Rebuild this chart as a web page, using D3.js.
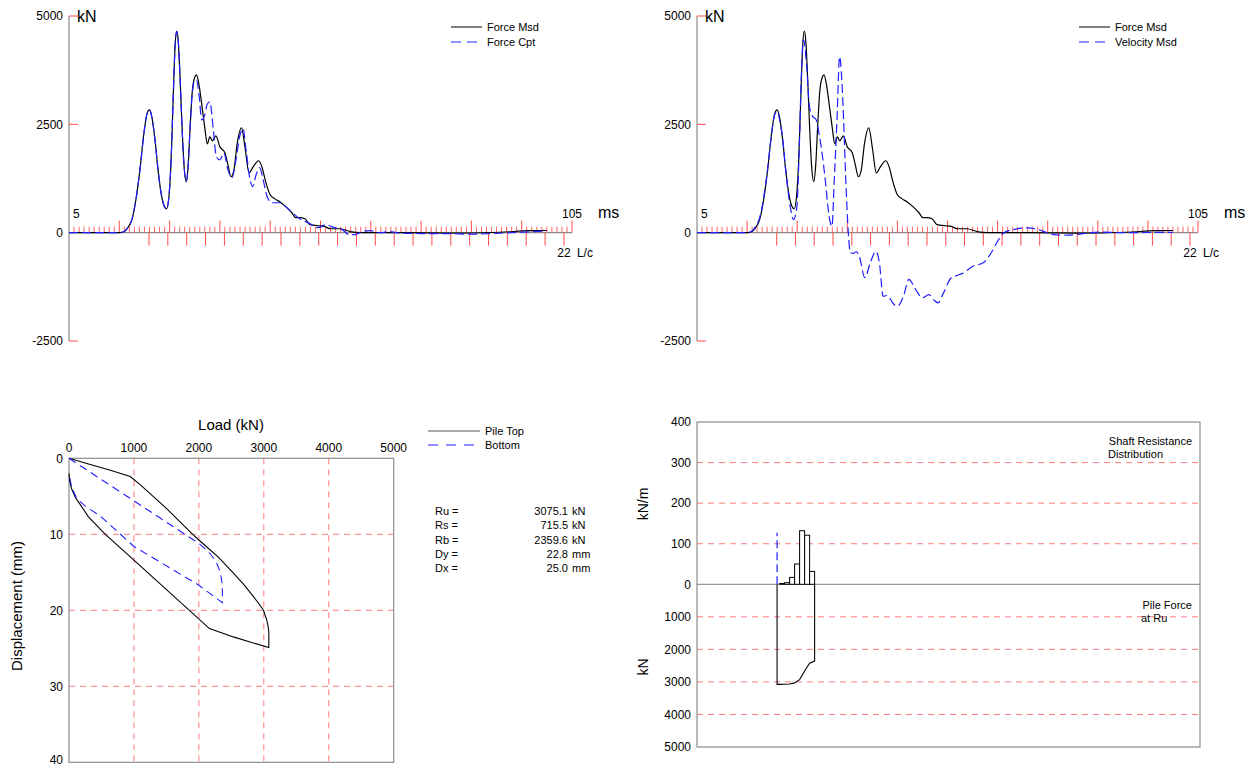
<!DOCTYPE html>
<html>
<head>
<meta charset="utf-8">
<script src="https://cdn.jsdelivr.net/npm/d3@7"></script>
<style>
  body { margin: 0; background: #fff; }
  svg { display: block; }
  text { font-family: "Liberation Sans", Arial, sans-serif; fill: #000; }
</style>
</head>
<body>
<svg id="chart" width="1251" height="767"></svg>
<script>
// ---------- signal records (time in ms, force in kN) ----------
const forceMsdTime = [5, 15.1, 15.9, 16.7, 17.5, 18.3, 19.1, 19.9, 20.5, 21.0, 21.5, 22.1, 22.7, 23.3, 23.9, 24.4, 24.9, 25.3, 25.7, 26.1, 26.4, 26.7, 27.1, 27.5, 27.9, 28.3, 28.7, 29.1, 29.5, 29.95, 30.35, 30.85, 31.4, 32.0, 32.5, 33.0, 33.5, 34.2, 35.0, 36.0, 36.6, 37.2, 37.8, 38.4, 39.3, 40.0, 40.8, 41.6, 42.7, 43.4, 44.0, 45.0, 45.95, 46.9, 48.1, 49.3, 50.1, 50.9, 51.9, 52.9, 54.5, 55.9, 56.9, 58.9, 60.9, 62.9, 70.8, 80.7, 90.7, 96.6, 100];
const forceMsd = [0, 0, 20, 115, 300, 760, 1450, 2300, 2740, 2834, 2650, 2140, 1450, 920, 620, 550, 875, 1680, 3060, 4330, 4654, 4450, 3525, 2370, 1500, 1175, 1565, 2490, 3250, 3570, 3640, 3410, 2950, 2420, 2050, 2210, 2120, 2235, 1980, 1840, 1565, 1290, 1450, 2030, 2420, 1960, 1380, 1520, 1660, 1500, 1220, 875, 780, 715, 600, 460, 345, 345, 320, 185, 160, 140, 90, 90, 25, 0, 0, -10, 10, 45, 50];

const forceCptTime = [5, 15.1, 15.9, 16.7, 17.5, 18.3, 19.1, 19.9, 20.5, 21.0, 21.5, 22.1, 22.7, 23.3, 23.9, 24.4, 24.9, 25.3, 25.7, 26.1, 26.4, 26.7, 27.1, 27.5, 27.9, 28.3, 28.7, 29.1, 29.5, 29.95, 30.35, 30.85, 31.4, 32.0, 32.5, 33.0, 33.6, 34.3, 35.0, 35.8, 36.6, 37.4, 38.2, 39.0, 39.6, 40.2, 41.0, 41.5, 42.2, 42.9, 43.6, 44.4, 45.4, 46.9, 48.9, 50.9, 52.9, 54.5, 56.1, 57.7, 59.3, 60.7, 61.9, 63.3, 64.8, 66.8, 68.8, 70.8, 74.8, 80.7, 84.7, 88.7, 92.7, 96.6, 100];
const forceCpt = [0, 0, 20, 115, 300, 760, 1450, 2300, 2740, 2834, 2650, 2140, 1450, 920, 620, 550, 875, 1680, 3060, 4330, 4640, 4450, 3525, 2370, 1500, 1175, 1565, 2490, 3200, 3500, 3520, 3180, 2600, 2720, 2970, 3020, 2490, 1750, 1680, 1840, 1450, 1270, 1680, 2260, 2400, 1910, 1220, 1060, 1340, 1500, 1220, 830, 690, 690, 510, 320, 210, 115, 185, 115, 70, -45, -45, 25, 45, 0, 25, -10, -20, -20, -35, -20, 0, 20, 45];

const velocityTime = [5, 15.1, 15.9, 16.7, 17.5, 18.3, 19.1, 19.9, 20.5, 21.0, 21.5, 22.0, 22.8, 23.6, 24.26, 24.94, 25.4, 25.8, 26.26, 26.94, 27.4, 28.0, 28.8, 29.4, 30.0, 30.6, 31.2, 31.94, 32.4, 32.94, 33.46, 33.9, 34.26, 34.7, 35.2, 35.6, 36.2, 36.8, 37.4, 38.5, 39.6, 40.7, 41.4, 42.16, 42.8, 43.4, 44.2, 45.0, 46.2, 47.3, 48.0, 48.8, 50.0, 51.3, 52.2, 53.1, 54.2, 55.7, 56.8, 57.9, 60.0, 62.2, 63.7, 65.2, 66.3, 68.1, 71.0, 73.2, 75.4, 77.6, 80.6, 83.4, 85.6, 89.2, 96.6, 100];
const velocityMsd = [0, 0, 30, 140, 340, 800, 1480, 2300, 2720, 2800, 2600, 2260, 1340, 605, 300, 605, 1910, 3525, 4450, 3755, 2950, 2700, 2600, 2260, 1800, 1220, 530, 145, 1220, 2600, 4060, 3525, 2600, 1220, 0, -460, -480, -440, -550, -1040, -690, -430, -690, -1470, -1450, -1500, -1640, -1700, -1470, -1080, -1175, -1340, -1500, -1430, -1545, -1620, -1390, -1045, -990, -945, -780, -690, -470, -160, 0, 70, 110, 70, -25, -60, -45, 0, 15, 0, 5, 5];

const forceTicks = [5000, 2500, 0, -2500];
const lcTickCount = 22;          // L/c ticks 0..22
const lcStartMs = 20.9;          // impact reference time
const lcStepMs = 3.75;           // 2L/c spacing in ms

// ---------- simulated static load test (load kN, displacement mm) ----------
const pileTopLoad = [0, 300, 650, 943, 1100, 1500, 1905, 2000, 2300, 2532, 2700, 2840, 2930, 2995, 3046, 3068, 3077, 3077, 2800, 2532, 2163, 1000, 560, 300, 174, 100, 40, 10, 0];
const pileTopDisp = [0, 0.75, 1.6, 2.4, 3.5, 6.6, 10.0, 10.75, 13.0, 15.1, 16.7, 18.2, 19.2, 20.0, 21.3, 22.2, 22.9, 24.9, 24.2, 23.5, 22.4, 13.4, 10.0, 7.7, 6.1, 5.2, 4.0, 3.0, 2.0];
const bottomLoad = [0, 1000, 2000, 2150, 2260, 2330, 2355, 2362, 2362, 2000, 1000, 482, 250, 120, 40, 0];
const bottomDisp = [0, 5.6, 11.2, 12.3, 13.5, 15.0, 16.3, 17.5, 19.0, 16.7, 11.6, 7.6, 6.3, 5.3, 3.8, 2.0];
const loadTicks = [0, 1000, 2000, 3000, 4000, 5000];
const dispTicks = [0, 10, 20, 30, 40];

const resultLabels = ["Ru  =", "Rs  =", "Rb  =", "Dy  =", "Dx ="];
const resultValues = ["3075.1", "715.5", "2359.6", "22.8", "25.0"];
const resultUnits = ["kN", "kN", "kN", "mm", "mm"];

// ---------- shaft resistance distribution along the pile ----------
const segmentDepth = [0, 1, 3, 5, 7, 9, 11, 13, 15];            // m
const shaftResistance = [0, 2, 4, 17, 50, 132, 121, 31.75];      // kN/m per segment
const ultimateCapacity = 3075.1;                                 // kN at pile top
const sensorMarker = [127];                                      // kN/m
const shaftTicks = [400, 300, 200, 100, 0];
const pileForceTicks = [1000, 2000, 3000, 4000, 5000];

// ---------- drawing ----------
const svg = d3.select("#chart");
const RED = "#ff4a4a";
const GRID = "#ff7a7a";
const GREY = "#8c8c8c";
const BLUE = "#1f1fff";

function drawSignalChart(opt) {
  const g = svg.append("g");
  const x = d3.scaleLinear().domain([5, 105]).range([opt.left, opt.right]);
  const y = d3.scaleLinear().domain([-2500, 5000]).range([341, 16]);
  const y0 = y(0);

  // vertical force axis
  g.append("line").attr("x1", opt.left).attr("x2", opt.left)
    .attr("y1", y(5000)).attr("y2", y(-2500)).attr("stroke", GREY).attr("stroke-width", 1.2);
  forceTicks.forEach(v => {
    if (v !== 0) {
      g.append("line").attr("x1", opt.left).attr("x2", opt.left + 9)
        .attr("y1", y(v)).attr("y2", y(v)).attr("stroke", RED).attr("stroke-width", 1);
    }
    g.append("text").attr("x", opt.left - 6).attr("y", y(v)).attr("dy", "0.35em")
      .attr("text-anchor", "end").style("font-size", "12px").text(v);
  });
  g.append("text").attr("x", opt.left + 8).attr("y", y(5000)).attr("dy", "0.35em")
    .style("font-size", "16px").text("kN");

  // time axis
  g.append("line").attr("x1", opt.left).attr("x2", x(105))
    .attr("y1", y0).attr("y2", y0).attr("stroke", GREY).attr("stroke-width", 1.2);
  d3.range(6, 106).forEach(t => {
    const major = (t - 5) % 10 === 0;
    g.append("line").attr("x1", x(t)).attr("x2", x(t))
      .attr("y1", y0).attr("y2", y0 - (major ? 12 : 6))
      .attr("stroke", RED).attr("stroke-width", 1).attr("opacity", major ? 1 : 0.85);
  });
  d3.range(0, lcTickCount + 1).forEach(k => {
    const xx = x(lcStartMs + k * lcStepMs);
    g.append("line").attr("x1", xx).attr("x2", xx)
      .attr("y1", y0).attr("y2", y0 + 13).attr("stroke", RED).attr("stroke-width", 1);
  });
  const lcEnd = x(lcStartMs + lcTickCount * lcStepMs);
  g.append("text").attr("x", lcEnd).attr("y", y0 + 20).attr("dy", "0.35em")
    .attr("text-anchor", "middle").style("font-size", "12px").text(lcTickCount);
  g.append("text").attr("x", lcEnd + 13).attr("y", y0 + 20).attr("dy", "0.35em")
    .style("font-size", "12px").text("L/c");
  g.append("text").attr("x", opt.left + 4).attr("y", y0 - 19).attr("dy", "0.35em")
    .style("font-size", "12px").text("5");
  g.append("text").attr("x", x(105)).attr("y", y0 - 19).attr("dy", "0.35em")
    .attr("text-anchor", "middle").style("font-size", "12px").text("105");
  g.append("text").attr("x", x(105) + 26).attr("y", y0 - 20).attr("dy", "0.35em")
    .style("font-size", "16px").text("ms");

  // traces
  const line = d3.line().x(d => x(d[0])).y(d => y(d[1])).curve(d3.curveMonotoneX);
  g.append("path").datum(d3.zip(opt.bTime, opt.bVal)).attr("d", line)
    .attr("fill", "none").attr("stroke", "#000").attr("stroke-width", 1.2);
  g.append("path").datum(d3.zip(opt.dTime, opt.dVal)).attr("d", line)
    .attr("fill", "none").attr("stroke", BLUE).attr("stroke-width", 1.2)
    .attr("stroke-dasharray", "9,4");

  // legend
  const lx = opt.left + opt.legendOffset;
  g.append("line").attr("x1", lx).attr("x2", lx + 31).attr("y1", 27).attr("y2", 27)
    .attr("stroke", "#000").attr("stroke-width", 1);
  g.append("text").attr("x", lx + 36).attr("y", 27).attr("dy", "0.35em")
    .style("font-size", "11px").text(opt.names[0]);
  g.append("line").attr("x1", lx).attr("x2", lx + 31).attr("y1", 42).attr("y2", 42)
    .attr("stroke", BLUE).attr("stroke-width", 1.2).attr("stroke-dasharray", "10,6");
  g.append("text").attr("x", lx + 36).attr("y", 42).attr("dy", "0.35em")
    .style("font-size", "11px").text(opt.names[1]);
}

drawSignalChart({
  left: 69, right: 572, legendOffset: 382,
  bTime: forceMsdTime, bVal: forceMsd, dTime: forceCptTime, dVal: forceCpt,
  names: ["Force Msd", "Force Cpt"]
});
drawSignalChart({
  left: 697, right: 1198, legendOffset: 382,
  bTime: forceMsdTime, bVal: forceMsd, dTime: velocityTime, dVal: velocityMsd,
  names: ["Force Msd", "Velocity Msd"]
});

// ----- load-displacement chart -----
(function () {
  const g = svg.append("g");
  const x = d3.scaleLinear().domain([0, 5000]).range([69, 393.7]);
  const y = d3.scaleLinear().domain([0, 40]).range([458.3, 762.3]);

  loadTicks.slice(1, -1).forEach(v => {
    g.append("line").attr("x1", x(v)).attr("x2", x(v)).attr("y1", y(0)).attr("y2", y(40))
      .attr("stroke", GRID).attr("stroke-dasharray", "6,5");
  });
  dispTicks.slice(1, -1).forEach(v => {
    g.append("line").attr("x1", x(0)).attr("x2", x(5000)).attr("y1", y(v)).attr("y2", y(v))
      .attr("stroke", GRID).attr("stroke-dasharray", "6,5");
  });
  g.append("rect").attr("x", x(0)).attr("y", y(0)).attr("width", x(5000) - x(0))
    .attr("height", y(40) - y(0)).attr("fill", "none").attr("stroke", GREY).attr("stroke-width", 1.2);

  loadTicks.forEach(v => g.append("text").attr("x", x(v)).attr("y", y(0) - 11).attr("dy", "0.35em")
    .attr("text-anchor", "middle").style("font-size", "12px").text(v));
  // last label sits on the bottom edge, so it is lifted to stay fully visible
  dispTicks.forEach((v, i) => g.append("text").attr("x", x(0) - 6)
    .attr("y", y(v) - (i === dispTicks.length - 1 ? 3 : 0)).attr("dy", "0.35em")
    .attr("text-anchor", "end").style("font-size", "12px").text(v));
  g.append("text").attr("x", 231).attr("y", 425).attr("dy", "0.35em")
    .attr("text-anchor", "middle").style("font-size", "15px").text("Load (kN)");
  g.append("text").attr("transform", "translate(17,606) rotate(-90)").attr("dy", "0.35em")
    .attr("text-anchor", "middle").style("font-size", "15px").text("Displacement (mm)");

  const line = d3.line().x(d => x(d[0])).y(d => y(d[1])).curve(d3.curveLinear);
  g.append("path").datum(d3.zip(pileTopLoad, pileTopDisp)).attr("d", line)
    .attr("fill", "none").attr("stroke", "#000").attr("stroke-width", 1.1);
  g.append("path").datum(d3.zip(bottomLoad, bottomDisp)).attr("d", line)
    .attr("fill", "none").attr("stroke", BLUE).attr("stroke-width", 1.1).attr("stroke-dasharray", "8,5");

  // legend
  g.append("line").attr("x1", 428).attr("x2", 480).attr("y1", 431).attr("y2", 431)
    .attr("stroke", "#555").attr("stroke-width", 1);
  g.append("text").attr("x", 485).attr("y", 431).attr("dy", "0.35em").style("font-size", "11px").text("Pile Top");
  g.append("line").attr("x1", 428).attr("x2", 480).attr("y1", 445).attr("y2", 445)
    .attr("stroke", BLUE).attr("stroke-width", 1).attr("stroke-dasharray", "10,8");
  g.append("text").attr("x", 485).attr("y", 445).attr("dy", "0.35em").style("font-size", "11px").text("Bottom");

  // capacity summary
  resultLabels.forEach((lab, i) => {
    const yy = 511 + i * 14.4;
    g.append("text").attr("x", 435).attr("y", yy).attr("dy", "0.35em").style("font-size", "11px").text(lab);
    g.append("text").attr("x", 568).attr("y", yy).attr("dy", "0.35em").attr("text-anchor", "end")
      .style("font-size", "11px").text(resultValues[i]);
    g.append("text").attr("x", 572).attr("y", yy).attr("dy", "0.35em").style("font-size", "11px").text(resultUnits[i]);
  });
})();

// ----- shaft resistance / pile force chart -----
(function () {
  const g = svg.append("g");
  const left = 697, right = 1200;
  const x = d3.scaleLinear().domain([-32, 169]).range([left, right]);
  const yS = d3.scaleLinear().domain([0, 400]).range([584.3, 422]);
  const yF = d3.scaleLinear().domain([0, 5000]).range([584.3, 747]);

  shaftTicks.slice(1, -1).forEach(v => g.append("line").attr("x1", left).attr("x2", right)
    .attr("y1", yS(v)).attr("y2", yS(v)).attr("stroke", GRID).attr("stroke-dasharray", "6,5"));
  pileForceTicks.slice(0, -1).forEach(v => g.append("line").attr("x1", left).attr("x2", right)
    .attr("y1", yF(v)).attr("y2", yF(v)).attr("stroke", GRID).attr("stroke-dasharray", "6,5"));
  g.append("line").attr("x1", left).attr("x2", right).attr("y1", yS(0)).attr("y2", yS(0))
    .attr("stroke", "#999").attr("stroke-width", 1.2);
  g.append("rect").attr("x", left).attr("y", yS(400)).attr("width", right - left)
    .attr("height", yF(5000) - yS(400)).attr("fill", "none").attr("stroke", GREY).attr("stroke-width", 1.2);

  shaftTicks.forEach(v => g.append("text").attr("x", left - 6).attr("y", yS(v)).attr("dy", "0.35em")
    .attr("text-anchor", "end").style("font-size", "12px").text(v));
  pileForceTicks.forEach(v => g.append("text").attr("x", left - 6).attr("y", yF(v)).attr("dy", "0.35em")
    .attr("text-anchor", "end").style("font-size", "12px").text(v));
  g.append("text").attr("transform", "translate(643,504) rotate(-90)").attr("dy", "0.35em")
    .attr("text-anchor", "middle").style("font-size", "14px").text("kN/m");
  g.append("text").attr("transform", "translate(643,667) rotate(-90)").attr("dy", "0.35em")
    .attr("text-anchor", "middle").style("font-size", "14px").text("kN");

  g.append("text").attr("x", right - 8).attr("y", 441).attr("dy", "0.35em").attr("text-anchor", "end")
    .style("font-size", "11px").text("Shaft Resistance");
  g.append("text").attr("x", right - 8 - 84).attr("y", 454).attr("dy", "0.35em")
    .style("font-size", "11px").text("Distribution");
  g.append("text").attr("x", right - 8).attr("y", 605).attr("dy", "0.35em").attr("text-anchor", "end")
    .style("font-size", "11px").text("Pile Force");
  g.append("text").attr("x", right - 8 - 51).attr("y", 618).attr("dy", "0.35em")
    .style("font-size", "11px").text("at Ru");

  // shaft resistance bars
  shaftResistance.forEach((q, i) => {
    const x0 = x(segmentDepth[i]), x1 = x(segmentDepth[i + 1]);
    g.append("rect").attr("x", x0).attr("y", yS(q)).attr("width", x1 - x0)
      .attr("height", yS(0) - yS(q)).attr("fill", "#fff").attr("stroke", "#000").attr("stroke-width", 1);
  });

  // pile force along the shaft: Ru minus accumulated shaft resistance
  let f = ultimateCapacity;
  const forcePts = [[segmentDepth[0], f]];
  shaftResistance.forEach((q, i) => {
    f -= q * (segmentDepth[i + 1] - segmentDepth[i]);
    forcePts.push([segmentDepth[i + 1], f]);
  });
  const outline = [[segmentDepth[0], 0]].concat(forcePts, [[segmentDepth[segmentDepth.length - 1], 0]]);
  g.append("path").datum(outline)
    .attr("d", d3.line().x(d => x(d[0])).y(d => yF(d[1])))
    .attr("fill", "none").attr("stroke", "#000").attr("stroke-width", 1.1);

  g.append("line").attr("x1", x(0)).attr("x2", x(0)).attr("y1", yS(0)).attr("y2", yS(sensorMarker[0]))
    .attr("stroke", BLUE).attr("stroke-width", 1.2).attr("stroke-dasharray", "8,4");
})();
</script>
</body>
</html>
